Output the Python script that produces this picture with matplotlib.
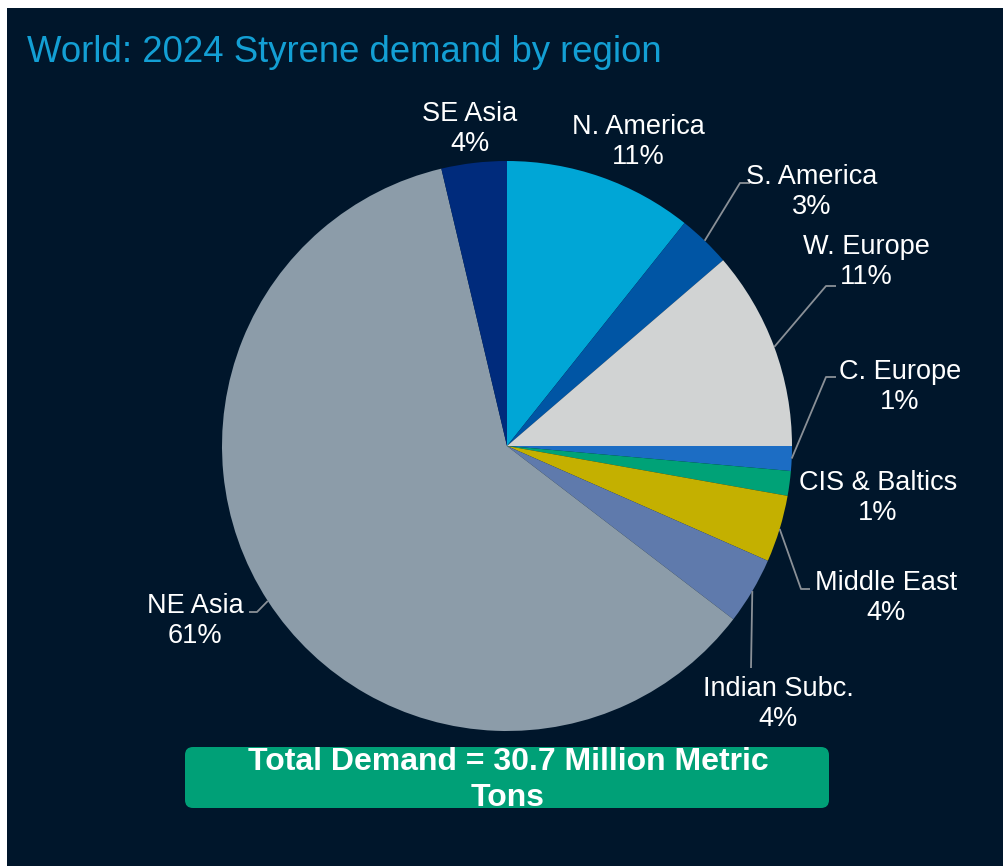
import numpy as np
import matplotlib
matplotlib.use("Agg")
import matplotlib.pyplot as plt
from matplotlib.patches import FancyBboxPatch, Rectangle

# Styrene demand by region, 2024 (share of world total, %)
regions = ['N. America', 'S. America', 'W. Europe', 'C. Europe', 'CIS & Baltics',
           'Middle East', 'Indian Subc.', 'NE Asia', 'SE Asia']
shares = [10.7, 3.0, 11.3, 1.4, 1.4, 3.8, 3.8, 60.9, 3.7]
total_demand_mmt = 30.7
title_text = 'World: 2024 Styrene demand by region'

colors = ['#00a6d6', '#0055a4', '#d1d3d3', '#1c6dc4', '#00a277',
          '#c4b000', '#5f7aac', '#8c9ca9', '#002b7c']

W, H = 1004, 866
BG = '#00162b'
fig = plt.figure(figsize=(W / 100, H / 100), dpi=100, facecolor=BG)
ax = fig.add_axes([0, 0, 1, 1])
ax.set_facecolor(BG)

plt.rcParams['font.family'] = ['Liberation Sans', 'DejaVu Sans']

# thin white page margin on top and left
fig.patches.append(Rectangle((0, 0), 7 / W, 1, transform=fig.transFigure,
                             facecolor='white', edgecolor='none', zorder=10))
fig.patches.append(Rectangle((0, 1 - 8 / H), 1, 8 / H, transform=fig.transFigure,
                             facecolor='white', edgecolor='none', zorder=10))

cx, cy, R = 507, H - 446, 285
wedges, _ = ax.pie(shares, colors=colors, startangle=90, counterclock=False,
                   center=(cx, cy), radius=R,
                   wedgeprops=dict(edgecolor='none', linewidth=0))
ax.set_xlim(0, W)
ax.set_ylim(0, H)
ax.set_aspect('equal')
ax.axis('off')


def edge_point(i):
    w = wedges[i]
    a = np.deg2rad((w.theta1 + w.theta2) / 2)
    return cx + R * np.cos(a), cy + R * np.sin(a)


# label centres (x, y from top) and leader bends (y from top)
label_pos = {
    'N. America': (638, 142),
    'S. America': (812, 192),
    'W. Europe': (866, 262),
    'C. Europe': (900, 387),
    'CIS & Baltics': (878, 498),
    'Middle East': (886, 598),
    'Indian Subc.': (778, 704),
    'NE Asia': (195, 621),
    'SE Asia': (470, 129),
}
leaders = {
    'S. America': [(740, 183), (750, 183)],
    'W. Europe': [(826, 286), (836, 286)],
    'C. Europe': [(826, 377), (836, 377)],
    'Middle East': [(801, 589), (810, 589)],
    'Indian Subc.': [(751, 668)],
    'NE Asia': [(257, 612), (249, 612)],
}

for i, (name, val) in enumerate(zip(regions, shares)):
    x, y = label_pos[name]
    ax.text(x, H - y, f'{name}\n{val:.0f}%', ha='center', va='center',
            color='white', fontsize=19.5, linespacing=1.2, zorder=5)
    if name in leaders:
        ex, ey = edge_point(i)
        pts = [(ex, ey)] + [(px, H - py) for px, py in leaders[name]]
        xs, ys = zip(*pts)
        ax.plot(xs, ys, color='#8a9097', lw=1.3, solid_capstyle='butt', zorder=4)

ax.text(27, H - 52, title_text, ha='left', va='center', color='#139fd4',
        fontsize=26.3, zorder=5)

box = FancyBboxPatch((185, H - 808), 644, 61,
                     boxstyle='round,pad=0,rounding_size=8',
                     facecolor='#00a077', edgecolor='none', zorder=3)
ax.add_patch(box)
ax.text(508, H - 780, f'Total Demand = {total_demand_mmt} Million Metric\nTons',
        ha='center', va='center', color='white', fontsize=23,
        fontweight='bold', linespacing=1.22, zorder=5)

fig.savefig('out.png', dpi=100, facecolor=BG)
